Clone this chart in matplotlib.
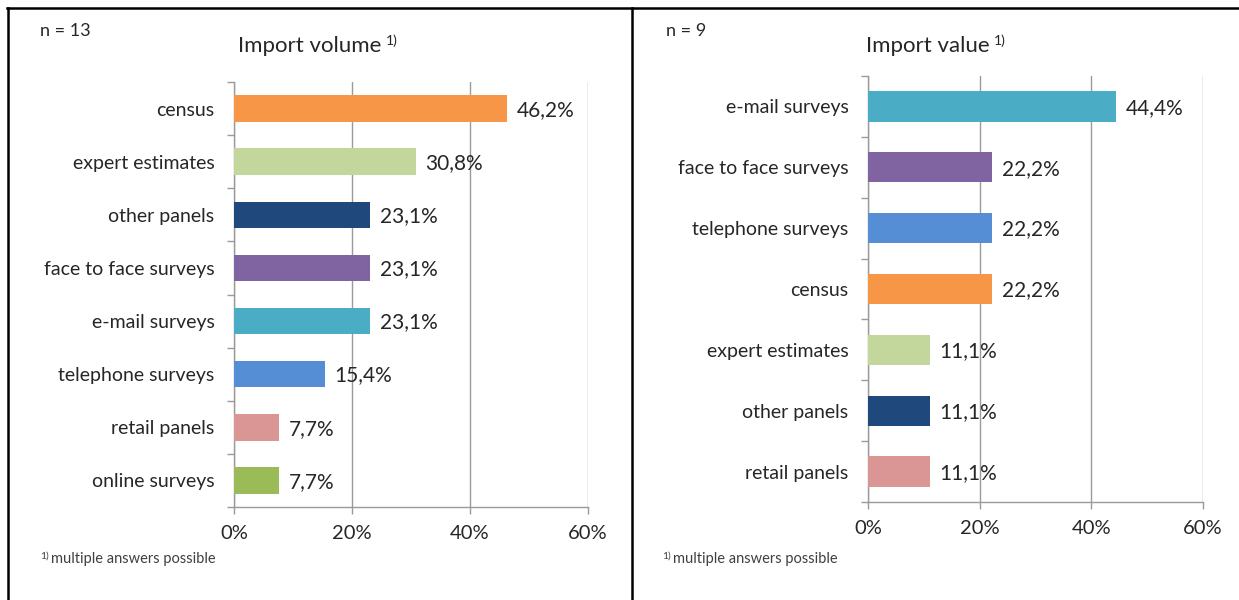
import matplotlib
matplotlib.use("Agg")
import matplotlib.pyplot as plt
from matplotlib.lines import Line2D
import numpy as np

plt.rcParams['font.family'] = ['Lato', 'DejaVu Sans']

# ---- data ----
vol_categories = ["census", "expert estimates", "other panels", "face to face surveys",
                  "e-mail surveys", "telephone surveys", "retail panels", "online surveys"]
vol_values = [46.2, 30.8, 23.1, 23.1, 23.1, 15.4, 7.7, 7.7]
vol_colors = ["#F79646", "#C3D69B", "#1F497D", "#8064A2", "#4BACC6", "#558ED5", "#D99694", "#9BBB59"]

val_categories = ["e-mail surveys", "face to face surveys", "telephone surveys", "census",
                  "expert estimates", "other panels", "retail panels"]
val_values = [44.4, 22.2, 22.2, 22.2, 11.1, 11.1, 11.1]
val_colors = ["#4BACC6", "#8064A2", "#558ED5", "#F79646", "#C3D69B", "#1F497D", "#D99694"]

x_ticks = [0, 20, 40, 60]
x_ticklabels = ["0%", "20%", "40%", "60%"]

W, H = 1239, 600
fig = plt.figure(figsize=(W / 100, H / 100), dpi=100)
TXT = "#262626"
GRID = "#9A9A9A"


def fx(px):
    return px / W


def fy(py):
    return 1 - py / H


def panel(x0, x1, ytop, ybot, cats, vals, cols, n_text, title, n_x, title_x, foot_x):
    ax = fig.add_axes([fx(x0), fy(ybot), fx(x1) - fx(x0), fy(ytop) - fy(ybot)])
    y = np.arange(len(cats))
    ax.barh(y, vals, height=0.5, color=cols, zorder=3)
    ax.set_ylim(len(cats) - 0.5, -0.5)
    ax.set_xlim(0, 60)
    ax.set_xticks(x_ticks)
    ax.set_xticklabels(x_ticklabels, fontsize=14.5, color=TXT)
    ax.set_yticks(y)
    ax.set_yticklabels(cats, fontsize=14, color=TXT)
    ax.set_yticks(np.arange(len(cats) + 1) - 0.5, minor=True)
    ax.tick_params(axis='y', which='major', length=0, pad=14)
    ax.tick_params(axis='y', which='minor', length=5, width=1, color=GRID, direction='out')
    ax.tick_params(axis='x', which='major', length=5, width=1, color=GRID, direction='out', pad=8)
    for s in ['top', 'right']:
        ax.spines[s].set_visible(False)
    for s in ['left', 'bottom']:
        ax.spines[s].set_color(GRID)
        ax.spines[s].set_linewidth(1)
    ax.xaxis.grid(True, color=GRID, linewidth=1, zorder=0)
    ax.set_axisbelow(True)
    for yi, v in zip(y, vals):
        ax.annotate(f"{v:.1f}%".replace('.', ','), (v, yi), xytext=(7, -1),
                    textcoords='offset points', va='center', ha='left',
                    fontsize=15, color=TXT)
    fig.text(fx(n_x), fy(31), n_text, fontsize=13, color=TXT, va='center', ha='left')
    t = fig.text(fx(title_x), fy(46), title, fontsize=16, color=TXT, va='center', ha='left')
    fig.canvas.draw()
    bb = t.get_window_extent()
    fig.text((bb.x1 + 4) / W, fy(41), "1)", fontsize=10, color=TXT, va='center', ha='left')
    f1 = fig.text(fx(foot_x), fy(556), "1)", fontsize=7.5, color="#404040", va='center', ha='left')
    fig.canvas.draw()
    bb2 = f1.get_window_extent()
    fig.text((bb2.x1 + 2) / W, fy(559), "multiple answers possible", fontsize=10.5,
             color="#404040", va='center', ha='left')
    return ax


panel(234, 588, 82, 507, vol_categories, vol_values, vol_colors,
      "n = 13", "Import volume", 40, 238, 40)
panel(868, 1203, 76, 502, val_categories, val_values, val_colors,
      "n = 9", "Import value", 666, 866, 662)

# panel borders
lw = 1.8
fig.add_artist(Line2D([fx(7), 1], [fy(8), fy(8)], color='black', linewidth=lw))
fig.add_artist(Line2D([fx(8), fx(8)], [fy(8), 0], color='black', linewidth=lw))
fig.add_artist(Line2D([fx(632), fx(632)], [fy(8), 0], color='black', linewidth=lw))

fig.savefig("out.png", dpi=100, facecolor='white')
